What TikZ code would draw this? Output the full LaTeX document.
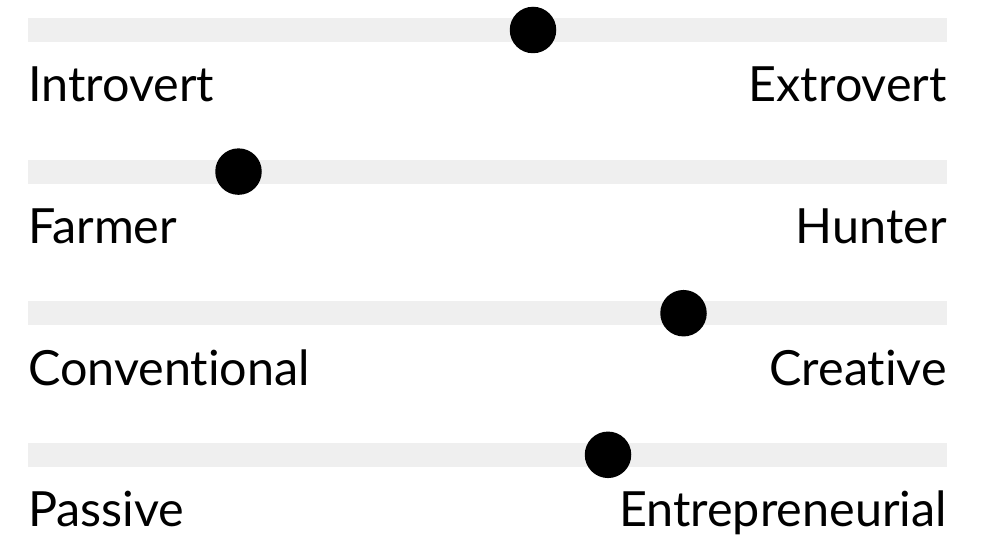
\documentclass[tikz,border=0pt]{standalone}
\usepackage{fontspec}
\setmainfont[Ligatures={NoCommon,NoRare}]{Lato}
\definecolor{bargray}{HTML}{EFEFEF}
\tikzset{
  track/.style={fill=bargray, draw=none},
  knob/.style={circle, fill=black, draw=none, minimum size=46.5pt, inner sep=0pt},
  lbl/.style={inner sep=0pt, font=\fontsize{48.5}{58}\selectfont, text=black}
}
\begin{document}
\begin{tikzpicture}[x=1pt,y=-1pt]
\useasboundingbox (0,0) rectangle (984,540);
\foreach \i/\l/\r/\k in {0/Introvert/Extrovert/533, 1/Farmer/Hunter/238.5, 2/Conventional/Creative/683.5, 3/Passive/Entrepreneurial/608}{
  \pgfmathsetmacro{\yc}{30+141.6*\i}
  \fill[track] (28,\yc-12) rectangle (947,\yc+12);
  \node[knob] (k\i) at (\k,\yc) {};
  \node[lbl, anchor=base west] (l\i) at (28,\yc+72) {\l};
  \node[lbl, anchor=base east] (r\i) at (947,\yc+72) {\r};
}
\end{tikzpicture}
\end{document}
